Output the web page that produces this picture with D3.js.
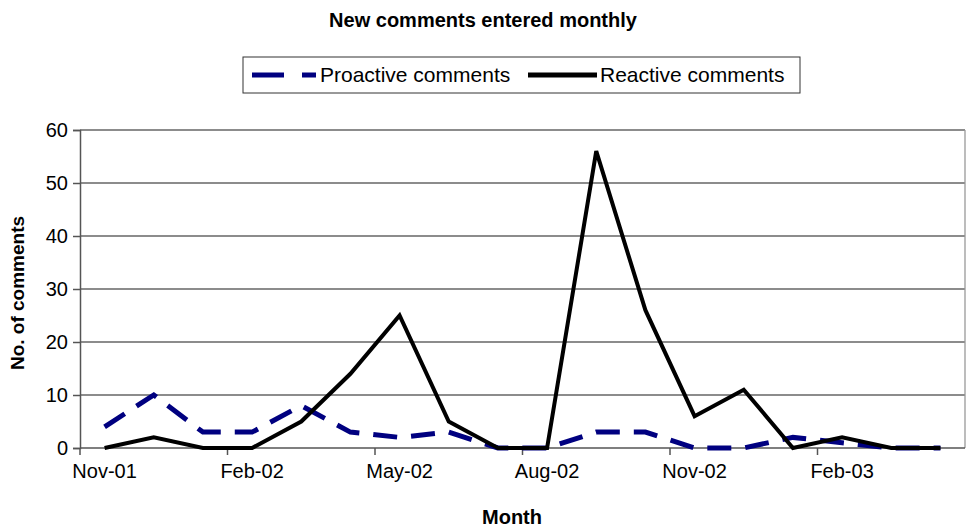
<!DOCTYPE html>
<html><head><meta charset="utf-8">
<script src="https://cdn.jsdelivr.net/npm/d3@7"></script>
<style>
body{margin:0;background:#fff;}
text{font-family:"Liberation Sans",Arial,sans-serif;}
</style>
</head><body>
<svg id="chart" width="966" height="529"></svg>
<script>
// months on the category axis
var months = ["Nov-01","Dec-01","Jan-02","Feb-02","Mar-02","Apr-02","May-02","Jun-02","Jul-02",
              "Aug-02","Sep-02","Oct-02","Nov-02","Dec-02","Jan-03","Feb-03","Mar-03","Apr-03"];
var proactive = [4,10,3,3,8,3,2,3,0,0,3,3,0,0,2,1,0,0];
var reactive  = [0,2,0,0,5,14,25,5,0,0,56,26,6,11,0,2,0,0];
var yTicks = [0,10,20,30,40,50,60];

var svg = d3.select("#chart");
var plotL = 80, plotR = 965, plotT = 130, plotB = 448;

var x = d3.scaleBand().domain(months).range([plotL, plotR]);
var y = d3.scaleLinear().domain([0, 60]).range([plotB, plotT]);

// title
svg.append("text").attr("x", 483).attr("y", 27).attr("text-anchor", "middle")
  .style("font-size", "20px").style("font-weight", "bold").text("New comments entered monthly");

// gridlines
svg.selectAll(".grid").data(yTicks.slice(1)).enter().append("line")
  .attr("x1", plotL).attr("x2", plotR)
  .attr("y1", d => y(d)).attr("y2", d => y(d))
  .attr("stroke", "#666").attr("stroke-width", 1.5);
svg.append("line").attr("x1", plotR).attr("x2", plotR).attr("y1", plotT).attr("y2", plotB)
  .attr("stroke", "#999").attr("stroke-width", 1.3);

// y axis
var yAxis = svg.append("g").attr("transform", "translate(" + plotL + ",0)")
  .call(d3.axisLeft(y).tickValues(yTicks).tickSize(7).tickPadding(5));
yAxis.select(".domain").attr("stroke", "#555").attr("stroke-width", 1.5);
yAxis.selectAll(".tick line").attr("stroke", "#555").attr("stroke-width", 1.5);
yAxis.selectAll("text").style("font-size", "20px").attr("fill", "#000")
  .style("font-family", "Liberation Sans, Arial, sans-serif");

// x axis: ticks at category boundaries every 3 months, labels at the category centres
svg.append("line").attr("x1", plotL).attr("x2", plotR).attr("y1", plotB).attr("y2", plotB)
  .attr("stroke", "#555").attr("stroke-width", 1.5);
var labelled = months.filter((m, i) => i % 3 == 0);
svg.selectAll(".xt").data(labelled).enter().append("line")
  .attr("x1", d => x(d)).attr("x2", d => x(d))
  .attr("y1", plotB).attr("y2", plotB + 7)
  .attr("stroke", "#555").attr("stroke-width", 1.5);
svg.selectAll(".xl").data(labelled).enter().append("text")
  .attr("x", d => x(d) + x.bandwidth() / 2).attr("y", plotB + 30)
  .attr("text-anchor", "middle").style("font-size", "20px").text(d => d);

// axis titles
svg.append("text").attr("x", 512).attr("y", 524).attr("text-anchor", "middle")
  .style("font-size", "20px").style("font-weight", "bold").text("Month");
svg.append("text").attr("transform", "translate(24,293) rotate(-90)").attr("text-anchor", "middle")
  .style("font-size", "19px").style("font-weight", "bold").text("No. of comments");

// lines
var line = d3.line().x((d, i) => x(months[i]) + x.bandwidth() / 2).y(d => y(d));
svg.append("path").datum(proactive).attr("d", line).attr("fill", "none")
  .attr("stroke", "#000080").attr("stroke-width", 5).attr("stroke-dasharray", "24,14");
svg.append("path").datum(reactive).attr("d", line).attr("fill", "none")
  .attr("stroke", "#000").attr("stroke-width", 4).attr("stroke-linejoin", "miter");

// legend
var lg = svg.append("g");
lg.append("rect").attr("x", 243).attr("y", 57).attr("width", 557).attr("height", 36)
  .attr("fill", "#fff").attr("stroke", "#333").attr("stroke-width", 1);
lg.append("line").attr("x1", 252).attr("x2", 316).attr("y1", 75).attr("y2", 75)
  .attr("stroke", "#000080").attr("stroke-width", 5).attr("stroke-dasharray", "32,18");
lg.append("text").attr("x", 320).attr("y", 82).style("font-size", "21px").text("Proactive comments");
lg.append("line").attr("x1", 528).attr("x2", 597).attr("y1", 75).attr("y2", 75)
  .attr("stroke", "#000").attr("stroke-width", 5);
lg.append("text").attr("x", 600).attr("y", 82).style("font-size", "21px").text("Reactive comments");
</script>
</body></html>
